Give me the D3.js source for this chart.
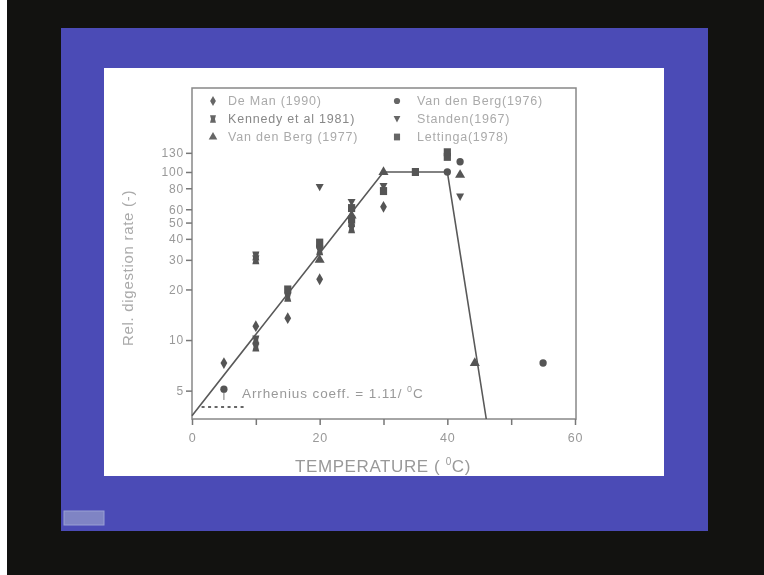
<!DOCTYPE html>
<html lang="en">
<head>
    <meta charset="UTF-8">
    <title>Rel. digestion rate vs temperature</title>
    <script src="https://d3js.org/d3.v7.min.js"></script>
    <style>
        body {
            margin: 0;
            background: #fff;
            font-family: Arial, "Liberation Sans", sans-serif;
        }
        svg {
            display: block;
            filter: blur(0.6px);
        }
        .axis path, .axis line {
            stroke: #777;
            stroke-width: 1.5;
        }
        .axis text {
            fill: #999;
            font-size: 12px;
            letter-spacing: 0.8px;
        }
    </style>
</head>
<body>
    <div id="container"></div>

    <script>
        // tick values
        const xTicks = [0, 10, 20, 30, 40, 50, 60];
        const xTickLabels = [0, 20, 40, 60];
        const yTicks = [5, 10, 20, 30, 40, 50, 60, 80, 100, 130];

        // data: [temperature, rel. rate]
        const deMan = [[5, 7.3], [10, 12.1], [15, 13.5], [20, 23], [30, 62]];
        const kennedy = [[10, 31.6], [10, 30], [10, 10], [10, 9.1], [15, 18], [20, 34], [25, 50], [25, 46]];
        const vdBerg1977 = [[20, 30], [30, 100], [42, 96], [44.3, 7.3], [25, 55]];
        const vdBerg1976 = [[5, 5.1], [40, 100], [42, 115], [55, 7.3], [20, 36]];
        const standen = [[20, 81], [42, 71], [30, 82], [25, 66]];
        const lettinga = [[35, 100], [40, 131], [40, 123], [15, 20], [25, 61], [30, 77], [20, 38], [25, 52]];

        // fitted line and the dotted reference
        const fitLine = [[0, 3.55], [30, 100], [40, 100], [46.1, 3.39]];
        const dottedLine = [[1.5, 4], [8.6, 4]];
        const errorBar = [5, 5.1, 4.4];

        const legendItems = [
            {name: 'De Man (1990)', shape: 'diamond', data: deMan, col: 0, row: 0, color: '#aaa'},
            {name: 'Kennedy et al 1981)', shape: 'hourglass', data: kennedy, col: 0, row: 1, color: '#888'},
            {name: 'Van den Berg (1977)', shape: 'up', data: vdBerg1977, col: 0, row: 2, color: '#aaa'},
            {name: 'Van den Berg(1976)', shape: 'circle', data: vdBerg1976, col: 1, row: 0, color: '#aaa'},
            {name: 'Standen(1967)', shape: 'down', data: standen, col: 1, row: 1, color: '#aaa'},
            {name: 'Lettinga(1978)', shape: 'square', data: lettinga, col: 1, row: 2, color: '#aaa'}
        ];

        const width = 764, height = 575;
        const svg = d3.select('#container').append('svg')
            .attr('width', width)
            .attr('height', height);

        // slide background
        svg.append('rect').attr('x', 7).attr('y', 0).attr('width', width - 7).attr('height', height).attr('fill', '#121210');
        svg.append('rect').attr('x', 61).attr('y', 28).attr('width', 647).attr('height', 503).attr('fill', '#4b4bb6');
        svg.append('rect').attr('x', 104).attr('y', 68).attr('width', 560).attr('height', 408).attr('fill', '#fff');
        svg.append('rect').attr('x', 64).attr('y', 511).attr('width', 40).attr('height', 14)
            .attr('fill', '#7f84c4').attr('stroke', '#9aa0d4');

        const x = d3.scaleLinear().domain([0, 60]).range([192, 575]);
        const y = d3.scaleLog().domain([3.39, 316]).range([419, 88]);

        // plot frame
        svg.append('rect')
            .attr('x', x(0)).attr('y', y(316))
            .attr('width', x(60) - x(0) + 1).attr('height', y(3.39) - y(316))
            .attr('fill', 'none').attr('stroke', '#888').attr('stroke-width', 1.5);

        svg.append('g')
            .attr('class', 'axis')
            .attr('transform', `translate(0,${y(3.39)})`)
            .call(d3.axisBottom(x).tickValues(xTicks).tickSize(6).tickPadding(8)
                .tickFormat(d => xTickLabels.includes(d) ? d : ''))
            .call(g => g.select('.domain').remove())
            .selectAll('text').style('font-size', '12.5px');

        svg.append('g')
            .attr('class', 'axis')
            .attr('transform', `translate(${x(0)},0)`)
            .call(d3.axisLeft(y).tickValues(yTicks).tickSize(6).tickPadding(2).tickFormat(d3.format('d')))
            .call(g => g.select('.domain').remove());

        // fitted line
        const line = d3.line().x(d => x(d[0])).y(d => y(d[1]));
        svg.append('path')
            .datum(fitLine)
            .attr('d', line)
            .attr('fill', 'none')
            .attr('stroke', '#595959')
            .attr('stroke-width', 1.6);

        svg.append('path')
            .datum(dottedLine)
            .attr('d', line)
            .attr('fill', 'none')
            .attr('stroke', '#666')
            .attr('stroke-width', 2)
            .attr('stroke-dasharray', '3,3.5');

        svg.append('line')
            .attr('x1', x(errorBar[0])).attr('x2', x(errorBar[0]))
            .attr('y1', y(errorBar[1])).attr('y2', y(errorBar[2]))
            .attr('stroke', '#777').attr('stroke-width', 1);

        // marker shapes
        function shapePath(shape) {
            if (shape === 'diamond') return d3.symbol(d3.symbolDiamond, 40)();
            if (shape === 'circle') return d3.symbol(d3.symbolCircle, 42)();
            if (shape === 'up') return d3.symbol(d3.symbolTriangle, 44)();
            if (shape === 'down') return 'M-4,-3.4L4,-3.4L0,4Z';
            if (shape === 'square') return 'M-3.6,-4h7.2v8h-7.2Z';
            return 'M-3.5,-4.5h7l-1.2,4.5l1.2,4.5h-7l1.2,-4.5Z';
        }

        legendItems.forEach(s => {
            svg.append('g')
                .selectAll('path')
                .data(s.data)
                .enter()
                .append('path')
                .attr('transform', d => `translate(${x(d[0])},${y(d[1])})`)
                .attr('d', shapePath(s.shape))
                .attr('fill', '#555');
        });

        // legend inside the frame
        const legend = svg.append('g');
        legend.selectAll('path')
            .data(legendItems)
            .enter()
            .append('path')
            .attr('transform', d => `translate(${d.col ? 397 : 213},${101 + d.row * 18}) scale(0.85)`)
            .attr('d', d => shapePath(d.shape))
            .attr('fill', '#666');
        legend.selectAll('text')
            .data(legendItems)
            .enter()
            .append('text')
            .attr('x', d => d.col ? 417 : 228)
            .attr('y', d => 105 + d.row * 18)
            .attr('fill', d => d.color)
            .style('font-size', '12.5px')
            .style('letter-spacing', '0.8px')
            .text(d => d.name);

        // annotation
        const ann = svg.append('text')
            .attr('x', 242).attr('y', 398)
            .attr('fill', '#999')
            .style('font-size', '13.5px')
            .style('letter-spacing', '0.9px')
            .text('Arrhenius coeff. = 1.11/ ');
        ann.append('tspan').attr('dy', -6).style('font-size', '9px').text('0');
        ann.append('tspan').attr('dy', 6).text('C');

        // axis titles
        svg.append('text')
            .attr('transform', 'translate(133,268) rotate(-90)')
            .attr('text-anchor', 'middle')
            .attr('fill', '#aaa')
            .style('font-size', '15px')
            .style('letter-spacing', '0.7px')
            .text('Rel. digestion rate (-)');

        const xt = svg.append('text')
            .attr('x', 383).attr('y', 472)
            .attr('text-anchor', 'middle')
            .attr('fill', '#999')
            .style('font-size', '17px')
            .style('letter-spacing', '0.6px')
            .text('TEMPERATURE ( ');
        xt.append('tspan').attr('dy', -7).style('font-size', '10px').text('0');
        xt.append('tspan').attr('dy', 7).text('C)');
    </script>
</body>
</html>
